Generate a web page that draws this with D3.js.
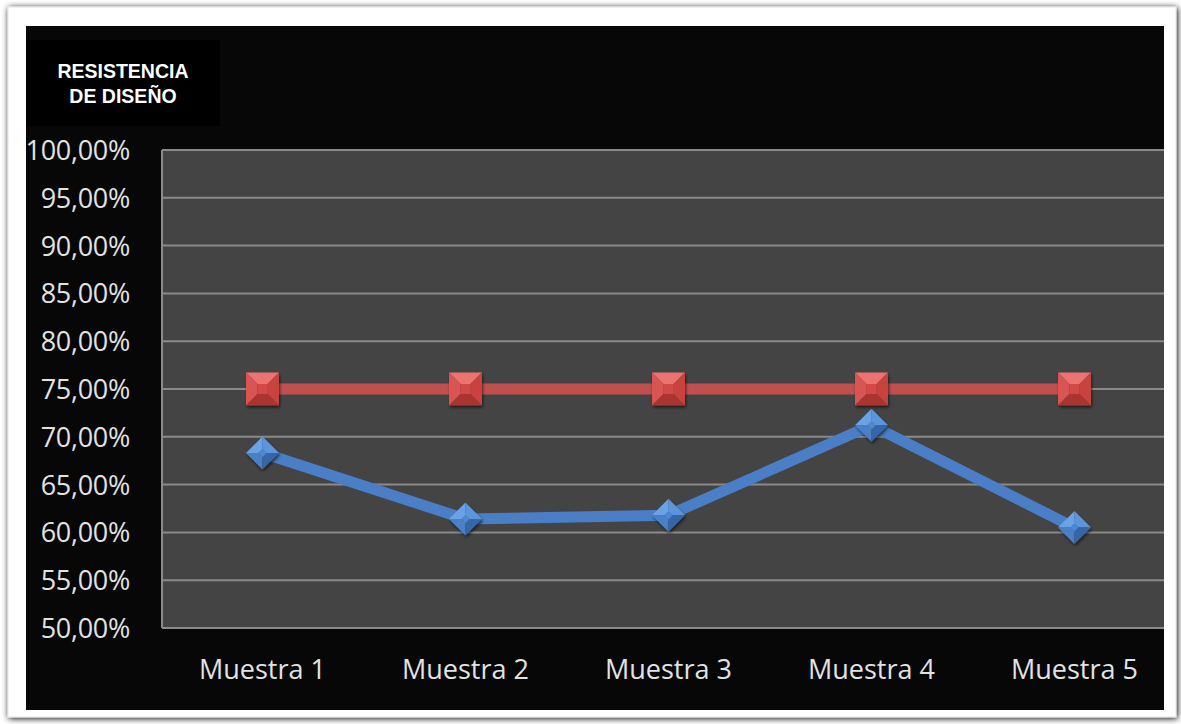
<!DOCTYPE html>
<html><head><meta charset="utf-8">
<script src="https://cdn.jsdelivr.net/npm/d3@7"></script>
<style>html,body{margin:0;padding:0;background:#fff;}svg{display:block;}</style>
</head><body>
<svg id="c" width="1181" height="724"></svg>
<script>
const categories = ["Muestra 1","Muestra 2","Muestra 3","Muestra 4","Muestra 5"];
const resistencia = [68.3, 61.4, 61.8, 71.2, 60.5];
const diseno = [75, 75, 75, 75, 75];
const yTicks = [50,55,60,65,70,75,80,85,90,95,100];
const titleLines = ["RESISTENCIA","DE DISEÑO"];

const svg = d3.select("#c");
const defs = svg.append("defs");
const f = defs.append("filter").attr("id","sh").attr("x","-5%").attr("y","-5%").attr("width","110%").attr("height","110%");
f.append("feGaussianBlur").attr("in","SourceAlpha").attr("stdDeviation",3);
f.append("feOffset").attr("dx",1).attr("dy",1).attr("result","b");
const fm = f.append("feMerge"); fm.append("feMergeNode").attr("in","b"); fm.append("feMergeNode").attr("in","SourceGraphic");
const ms = defs.append("filter").attr("id","ms").attr("x","-30%").attr("y","-30%").attr("width","160%").attr("height","160%");
ms.append("feGaussianBlur").attr("in","SourceAlpha").attr("stdDeviation",1.5);
ms.append("feOffset").attr("dx",1).attr("dy",2).attr("result","b");
ms.append("feComponentTransfer").append("feFuncA").attr("type","linear").attr("slope",0.6);
const mm = ms.append("feMerge"); mm.append("feMergeNode"); mm.append("feMergeNode").attr("in","SourceGraphic");

// outer frame
svg.append("rect").attr("x",8).attr("y",7).attr("width",1168).attr("height",710).attr("fill","#fff").attr("stroke","#e4e4e4").attr("filter","url(#sh)");
svg.append("rect").attr("x",26).attr("y",26).attr("width",1138).attr("height",684).attr("fill","#070707");

const plot = {left:162, right:1164, top:150, bottom:628};
const x = d3.scaleBand().domain(categories).range([161, 1176]);
const cx = d => x(d) + x.bandwidth()/2;
const y = d3.scaleLinear().domain([50,100]).range([plot.bottom, plot.top]);

svg.append("rect").attr("x",plot.left).attr("y",plot.top).attr("width",plot.right-plot.left).attr("height",plot.bottom-plot.top).attr("fill","#444444");

// gridlines
svg.append("g").selectAll("line").data(yTicks).join("line")
  .attr("x1",plot.left).attr("x2",plot.right).attr("y1",d=>y(d)).attr("y2",d=>y(d))
  .attr("stroke","#8a8a8a").attr("stroke-width",2);
svg.append("line").attr("x1",plot.left).attr("x2",plot.left).attr("y1",plot.top).attr("y2",plot.bottom).attr("stroke","#8a8a8a").attr("stroke-width",2);

// y labels
const fmt = v => d3.format(".2f")(v).replace(".",",") + "%";
const clip = defs.append("clipPath").attr("id","cl");
clip.append("rect").attr("x",26).attr("y",26).attr("width",1138).attr("height",684);
svg.append("g").attr("clip-path","url(#cl)").selectAll("text").data(yTicks).join("text")
  .attr("x",130).attr("y",d=>y(d)+10).attr("text-anchor","end")
  .attr("font-family","'Open Sans', 'Noto Sans', sans-serif").attr("font-size",27)
  .attr("fill","#e2e2e2").attr("letter-spacing","-0.3").text(fmt);

// x labels
svg.append("g").selectAll("text").data(categories).join("text")
  .attr("x",d=>cx(d)).attr("y",679).attr("text-anchor","middle")
  .attr("font-family","'Open Sans', 'Noto Sans', sans-serif").attr("font-size",27)
  .attr("fill","#e2e2e2").text(d=>d);

// title box
svg.append("rect").attr("x",26).attr("y",40).attr("width",194).attr("height",86).attr("fill","#000");
svg.append("g").selectAll("text").data(titleLines).join("text")
  .attr("x",123).attr("y",(d,i)=>78+i*25).attr("text-anchor","middle")
  .attr("font-family","'Liberation Sans', Arial, sans-serif").attr("font-weight","bold").attr("font-size",19.5)
  .attr("fill","#fff").text(d=>d);

// lines
const line = d3.line().x((d,i)=>cx(categories[i])).y(d=>y(d));
svg.append("path").datum(diseno).attr("d",line).attr("fill","none").attr("stroke","#c0504d").attr("stroke-width",11);
svg.append("path").datum(resistencia).attr("d",line).attr("fill","none").attr("stroke","#4a7ec6").attr("stroke-width",11).attr("stroke-linejoin","round");

// square markers (beveled)
const s = 16.5, inner = 5;
const sq = svg.append("g").selectAll("g").data(diseno).join("g")
  .attr("transform",(d,i)=>`translate(${cx(categories[i])},${y(d)})`).attr("filter","url(#ms)");
const sqFacets = [
  {p:`M${-s},${-s}L${s},${-s}L${inner},${-inner}L${-inner},${-inner}Z`, c:"#ec7370"},
  {p:`M${-s},${-s}L${-inner},${-inner}L${-inner},${inner}L${-s},${s}Z`, c:"#d85552"},
  {p:`M${s},${-s}L${s},${s}L${inner},${inner}L${inner},${-inner}Z`, c:"#c8433f"},
  {p:`M${-s},${s}L${-inner},${inner}L${inner},${inner}L${s},${s}Z`, c:"#a83431"},
  {p:`M${-inner},${-inner}L${inner},${-inner}L${inner},${inner}L${-inner},${inner}Z`, c:"#d24a47"}
];
sqFacets.forEach(fc => sq.append("path").attr("d",fc.p).attr("fill",fc.c));

// diamond markers (beveled)
const r = 16.5, ri = 4;
const dm = svg.append("g").selectAll("g").data(resistencia).join("g")
  .attr("transform",(d,i)=>`translate(${cx(categories[i])},${y(d)})`).attr("filter","url(#ms)");
const dmFacets = [
  {p:`M0,${-r}L${r},0L${ri},0L0,${-ri}Z`, c:"#5d95dc"},
  {p:`M0,${-r}L0,${-ri}L${-ri},0L${-r},0Z`, c:"#6aa2e6"},
  {p:`M${-r},0L${-ri},0L0,${ri}L0,${r}Z`, c:"#4a80c6"},
  {p:`M${r},0L0,${r}L0,${ri}L${ri},0Z`, c:"#3566a8"},
  {p:`M0,${-ri}L${ri},0L0,${ri}L${-ri},0Z`, c:"#5088d2"}
];
dmFacets.forEach(fc => dm.append("path").attr("d",fc.p).attr("fill",fc.c));
</script>
</body></html>
